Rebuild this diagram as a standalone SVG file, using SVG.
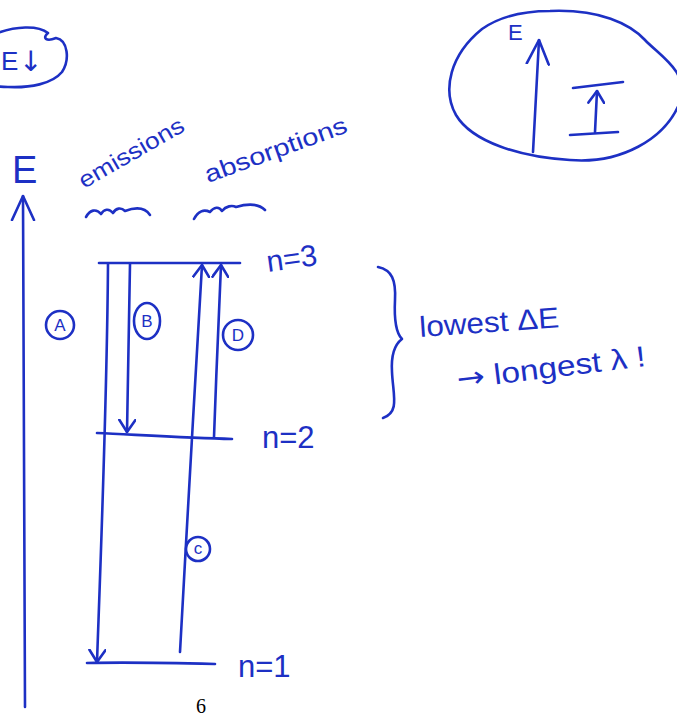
<svg xmlns="http://www.w3.org/2000/svg" width="677" height="720" viewBox="0 0 677 720">
<style>
  .ink{fill:none;stroke:#1d30c4;stroke-width:2.6;stroke-linecap:round;stroke-linejoin:round}
  .t{fill:#1d30c4;font-family:"Liberation Sans","DejaVu Sans",sans-serif}
  .lbl{fill:#1d30c4;font-family:"Liberation Sans","DejaVu Sans",sans-serif;font-size:17px;text-anchor:middle}
</style>
<defs>
  <marker id="ah" viewBox="0 0 14 18" markerWidth="14" markerHeight="18" refX="13" refY="9" orient="auto" markerUnits="userSpaceOnUse">
    <path d="M1,1 L13,9 L1,17" fill="none" stroke="#1d30c4" stroke-width="2.6" stroke-linecap="round" stroke-linejoin="round"/>
  </marker>
  <marker id="ahL" viewBox="0 0 26 26" markerWidth="26" markerHeight="26" refX="25" refY="13" orient="auto" markerUnits="userSpaceOnUse">
    <path d="M1,2 L25,13 L1,24" fill="none" stroke="#1d30c4" stroke-width="2.6" stroke-linecap="round" stroke-linejoin="round"/>
  </marker>
</defs>
<rect width="677" height="720" fill="#ffffff"/>

<!-- top-left bubble -->
<g id="bubble-left">
  <path class="ink" d="M-5,34 C15,26 38,25 48,33 C42,38 46,42 56,38 C68,40 70,60 62,72 C52,84 30,88 8,87 C-2,87 -8,85 -10,84"/>
  <text class="t" x="1" y="70" font-size="26">E</text>
  <text x="19" y="71" font-size="28" fill="#1d30c4" font-family="DejaVu Sans, sans-serif">↓</text>
</g>

<!-- top-right bubble -->
<g id="bubble-right">
  <path class="ink" d="M550,11 C600,9 630,24 645,40 C660,56 690,72 680,102 C665,140 620,164 570,160 C520,157 472,142 456,115 C442,90 450,55 482,29 C502,15 525,11 550,11 Z"/>
  <path class="ink" d="M533,152 L539,40" marker-end="url(#ahL)"/>
  <text class="t" x="508" y="40" font-size="22">E</text>
  <path class="ink" d="M573,88 L623,82"/>
  <path class="ink" d="M570,135 L618,132"/>
  <path class="ink" d="M595,132 L597,91" marker-end="url(#ah)"/>
</g>

<!-- energy axis -->
<g id="axis">
  <path class="ink" d="M25,707 C25,500 23,300 23,196" marker-end="url(#ahL)"/>
  <text class="t" x="12" y="183" font-size="38">E</text>
</g>

<!-- headings -->
<g id="heading-emissions">
  <text class="t" x="84" y="189" font-size="23" transform="rotate(-30 84 189)" textLength="118" lengthAdjust="spacingAndGlyphs">emissions</text>
  <path class="ink" d="M86,217 C90,210 96,208 101,214 C104,209 109,208 113,213 C116,208 121,207 125,211 C133,208 144,206 150,215"/>
</g>
<g id="heading-absorptions">
  <text class="t" x="208" y="183" font-size="24" transform="rotate(-20 208 183)" textLength="150" lengthAdjust="spacingAndGlyphs">absorptions</text>
  <path class="ink" d="M194,219 C198,211 204,209 210,212 C214,207 219,206 222,211 C226,206 232,205 236,207 C246,204 258,203 265,210"/>
</g>

<!-- levels -->
<g id="level-n3">
  <path class="ink" d="M99,263 L240,263"/>
  <text class="t" x="268" y="272" font-size="30" transform="rotate(-8 268 272)">n=3</text>
</g>
<g id="level-n2">
  <path class="ink" d="M97,433 C140,435 190,438 232,439"/>
  <text class="t" x="262" y="448" font-size="31">n=2</text>
</g>
<g id="level-n1">
  <path class="ink" d="M87,663 C130,662 175,663 215,664"/>
  <text class="t" x="238" y="677" font-size="31">n=1</text>
</g>

<!-- transitions -->
<g id="connectors">
  <path class="ink" d="M108,264 C107,400 101,550 97,662" marker-end="url(#ah)"/>
  <path class="ink" d="M130,264 C129,330 128,390 127,432" marker-end="url(#ah)"/>
  <path class="ink" d="M180,652 C184,580 190,470 193,420 C196,360 200,300 202,265" marker-end="url(#ah)"/>
  <path class="ink" d="M214,437 C216,380 219,310 221,265" marker-end="url(#ah)"/>
</g>

<!-- transition labels -->
<g id="label-A">
  <circle class="ink" cx="60" cy="325" r="14"/>
  <text class="lbl" x="60" y="331">A</text>
</g>
<g id="label-B">
  <ellipse class="ink" cx="147" cy="321" rx="13" ry="18"/>
  <text class="lbl" x="147" y="327">B</text>
</g>
<g id="label-D">
  <circle class="ink" cx="238" cy="335" r="15"/>
  <text class="lbl" x="238" y="341">D</text>
</g>
<g id="label-C">
  <circle class="ink" cx="198" cy="549" r="12"/>
  <text class="lbl" x="198" y="554" font-size="15">c</text>
</g>

<!-- brace and note -->
<g id="note">
  <path class="ink" d="M378,267 C392,270 396,280 395,300 C394,320 396,333 402,339 C394,345 391,356 392,372 C393,395 400,412 383,418"/>
  <text class="t" x="420" y="337" font-size="29" transform="rotate(-4 420 337)" textLength="140" lengthAdjust="spacingAndGlyphs">lowest ΔE</text>
  <text class="t" x="458" y="389" font-size="29" transform="rotate(-7 458 389)" textLength="190" lengthAdjust="spacingAndGlyphs"><tspan font-family="DejaVu Sans, sans-serif">→</tspan> longest λ !</text>
</g>

<text x="201" y="713" font-family="Liberation Serif, serif" font-size="20" text-anchor="middle" fill="#000">6</text>
</svg>
